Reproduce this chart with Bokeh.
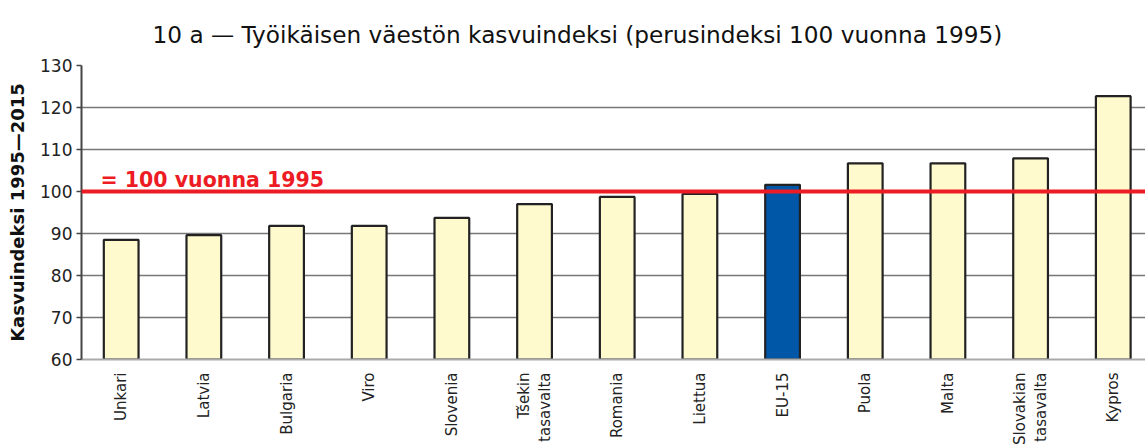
import math
from bokeh.plotting import figure
from bokeh.models import Range1d, FixedTicker, Span, Label
from bokeh.embed import file_html
from bokeh.resources import INLINE

countries = ["Unkari", "Latvia", "Bulgaria", "Viro", "Slovenia", "Tšekin\ntasavalta",
             "Romania", "Liettua", "EU-15", "Puola", "Malta", "Slovakian\ntasavalta", "Kypros"]
values = [88.5, 89.6, 91.8, 91.8, 93.7, 97.0, 98.7, 99.4, 101.6, 106.7, 106.7, 107.9, 122.7]
colors = ["#fffacd"] * 8 + ["#0057a8"] + ["#fffacd"] * 4
y_ticks = [60, 70, 80, 90, 100, 110, 120, 130]

FONT = "DejaVu Sans"
positions = list(range(len(countries)))

p = figure(width=1145, height=447, output_backend="svg", toolbar_location=None,
           x_range=Range1d(-0.48, 12.39), y_range=Range1d(60, 130),
           min_border_left=81, min_border_right=0, min_border_top=65, min_border_bottom=87)

p.title.text = "10 a \u2014 Työikäisen väestön kasvuindeksi (perusindeksi 100 vuonna 1995)"
p.title.text_font = FONT
p.title.text_font_size = "23.2px"
p.title.text_font_style = "normal"
p.title.text_color = "#111111"
p.title.align = "left"
p.title.offset = 71
p.title.standoff = 35

p.outline_line_color = None
p.background_fill_color = "white"

p.vbar(x=positions, top=values, bottom=60, width=0.42, fill_color=colors,
       line_color="#222222", line_width=2.2)

p.xgrid.visible = False
p.ygrid.ticker = FixedTicker(ticks=y_ticks)
p.ygrid.grid_line_color = "#777777"
p.ygrid.grid_line_width = 1.5

# y axis
p.yaxis.ticker = FixedTicker(ticks=y_ticks)
p.yaxis.axis_label = "Kasvuindeksi 1995\u20142015"
p.yaxis.axis_label_text_font = FONT
p.yaxis.axis_label_text_font_style = "bold"
p.yaxis.axis_label_text_font_size = "18px"
p.yaxis.axis_label_text_color = "#111111"
p.yaxis.axis_label_standoff = 9
p.yaxis.major_label_text_font = FONT
p.yaxis.major_label_text_font_size = "17px"
p.yaxis.major_label_text_color = "#222222"
p.yaxis.major_label_standoff = 4
p.yaxis.axis_line_color = "#444444"
p.yaxis.axis_line_width = 2
p.yaxis.major_tick_line_color = "#444444"
p.yaxis.major_tick_line_width = 1.5
p.yaxis.major_tick_out = 5
p.yaxis.major_tick_in = 0
p.yaxis.minor_tick_line_color = None

# x axis
p.xaxis.ticker = FixedTicker(ticks=positions)
p.xaxis.major_label_overrides = {i: c for i, c in zip(positions, countries)}
p.xaxis.major_label_orientation = math.pi / 2
p.xaxis.major_label_text_font = FONT
p.xaxis.major_label_text_font_size = "15px"
p.xaxis.major_label_text_color = "#222222"
p.xaxis.major_label_standoff = 7
p.xaxis.axis_line_color = "#aaaaaa"
p.xaxis.axis_line_width = 2
p.xaxis.major_tick_line_color = None
p.xaxis.minor_tick_line_color = None

ref = Span(location=100, dimension="width", line_color="#ed1c24", line_width=4)
p.add_layout(ref)
lab = Label(x=-0.25, y=100, y_offset=0, text="= 100 vuonna 1995", text_color="#ed1c24",
            text_font=FONT, text_font_style="bold", text_font_size="20.5px",
            text_baseline="bottom")
p.add_layout(lab)

open("out.html", "w").write(file_html(p, INLINE))
